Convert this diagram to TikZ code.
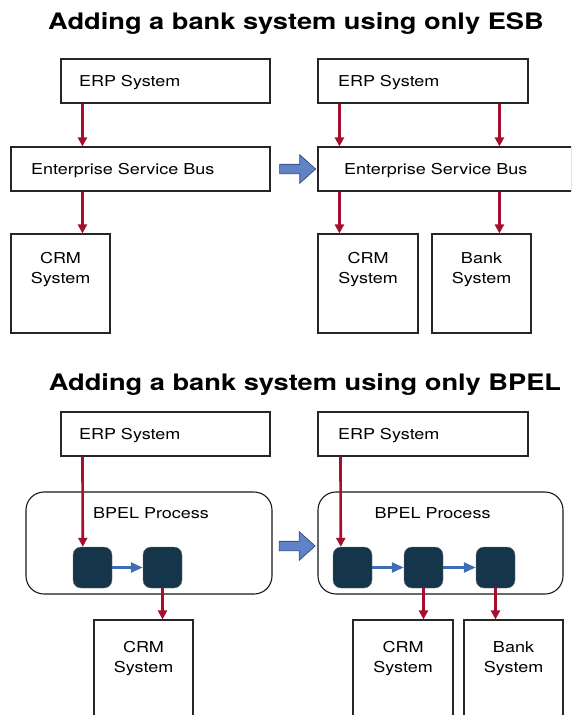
\documentclass[tikz,border=0pt]{standalone}
\usepackage{fontspec}
\setmainfont{TeX Gyre Heros}[FakeStretch=1.2]
\usepackage{tikz}
\usetikzlibrary{arrows.meta, shapes.arrows}

\definecolor{flowred}{RGB}{165,15,45}
\definecolor{handblue}{RGB}{63,108,180}
\definecolor{moveblue}{RGB}{96,130,198}
\definecolor{moveedge}{RGB}{45,65,115}
\definecolor{taskdark}{RGB}{21,53,75}

\tikzset{
  heading/.style={font=\fontsize{22.7}{26}\selectfont\bfseries},
  sysbox/.style={draw=black!85, line width=1.1pt, minimum height=44pt, align=left,
    text depth=0pt, font=\fontsize{15}{18}\selectfont},
  appbox/.style={draw=black!85, line width=1.1pt, minimum width=99pt, minimum height=#1},
  boxlabel/.style={anchor=north, align=center, inner sep=0pt, yshift=-19pt,
    font=\fontsize{15}{19.5}\selectfont},
  procbox/.style={draw=black!90, line width=1.1pt, rounded corners=18pt,
    minimum width=246pt, minimum height=102pt},
  task/.style={fill=taskdark, draw=black!55, line width=0.4pt, rounded corners=8pt,
    minimum width=39pt, minimum height=41pt, inner sep=0pt},
  flow/.style={->, draw=flowred, line width=2.6pt, >={Triangle[width=9pt,length=9pt]}},
  handoff/.style={->, draw=handblue, line width=2.4pt, >={Triangle[width=10pt,length=12pt]}},
  movearrow/.style={single arrow, fill=moveblue, draw=moveedge, line width=0.6pt,
    inner sep=0pt, text height=4.5pt, text depth=4.5pt, minimum height=36pt,
    single arrow head extend=9.5pt, single arrow tip angle=84}
}

\begin{document}
\begin{tikzpicture}[x=1pt, y=-1pt]
    \clip (0,0) rectangle (571,715);

    % only ESB
    \node[heading] (titleA) at (296,24) {Adding a bank system using only ESB};

    \node[sysbox, text width=173pt, inner xsep=18pt] (erpA) at (165.5,81) {ERP System};
    \node[sysbox, text width=219pt, inner xsep=20pt] (esbA) at (140.5,169) {Enterprise Service Bus};
    \node[appbox=99pt, label={[boxlabel]north:CRM\\System}] (crmA) at (60.5,283.5) {};

    \node[movearrow] (moveA) at (295,169) {};

    \node[sysbox, text width=170pt, inner xsep=20pt] (erpB) at (423,81) {ERP System};
    \node[sysbox, text width=202pt, inner xsep=26pt] (esbB) at (445,169) {Enterprise Service Bus};
    \node[appbox=99pt, minimum width=100pt, label={[boxlabel]north:CRM\\System}] (crmB) at (368,283.5) {};
    \node[appbox=99pt, label={[boxlabel]north:Bank\\System}] (bankB) at (481.5,283.5) {};

    \draw[flow] ([xshift=22pt]erpA.south west) -- ([xshift=72pt]esbA.north west);
    \draw[flow] ([xshift=72pt]esbA.south west) -- ([xshift=72pt]crmA.north west);
    \draw[flow] ([xshift=22pt]erpB.south west) -- ([xshift=22pt]esbB.north west);
    \draw[flow] ([xshift=22pt]esbB.south west) -- ([xshift=22pt]crmB.north west);
    \draw[flow] ([xshift=182pt]erpB.south west) -- ([xshift=182pt]esbB.north west);
    \draw[flow] ([xshift=182pt]esbB.south west) -- ([xshift=68pt]bankB.north west);

    % only BPEL
    \node[heading] (titleB) at (305,385) {Adding a bank system using only BPEL};

    \node[sysbox, text width=173pt, inner xsep=18pt] (erpC) at (165.5,434) {ERP System};
    \node[procbox, label={[boxlabel, yshift=3pt, xshift=2pt]north:BPEL Process}] (bpelC) at (149,543) {};

    \node[movearrow] (moveB) at (294.5,546) {};

    \node[sysbox, text width=170pt, inner xsep=20pt] (erpD) at (423,434) {ERP System};
    \node[procbox, minimum width=245pt, label={[boxlabel, yshift=3pt, xshift=-8pt]north:BPEL Process}] (bpelD) at (440.5,543) {};

    \foreach \x/\name in {92.5/sqA, 162.5/sqB, 352.5/sqC, 423.5/sqD, 495.5/sqE} {
      \node[task] (\name) at (\x,567.5) {};
    }
    \foreach \a/\b in {sqA/sqB, sqC/sqD, sqD/sqE} {
      \draw[handoff] (\a) -- (\b);
    }

    \node[appbox=110pt, label={[boxlabel, yshift=-3pt]north:CRM\\System}] (crmC) at (143.5,675) {};
    \node[appbox=110pt, minimum width=100pt, label={[boxlabel, yshift=-3pt]north:CRM\\System}] (crmD) at (403,675) {};
    \node[appbox=110pt, label={[boxlabel, yshift=-3pt]north:Bank\\System}] (bankD) at (513.5,675) {};

    \draw[flow] ([xshift=22pt]erpC.south west) -- ([xshift=10pt]sqA.north west);
    \draw[flow] (sqB.south) -- (sqB.south |- crmC.north);
    \draw[flow] ([xshift=23pt]erpD.south west) -- ([xshift=8pt]sqC.north west);
    \draw[flow] (sqD.south) -- (sqD.south |- crmD.north);
    \draw[flow] (sqE.south) -- (sqE.south |- bankD.north);
\end{tikzpicture}
\end{document}
